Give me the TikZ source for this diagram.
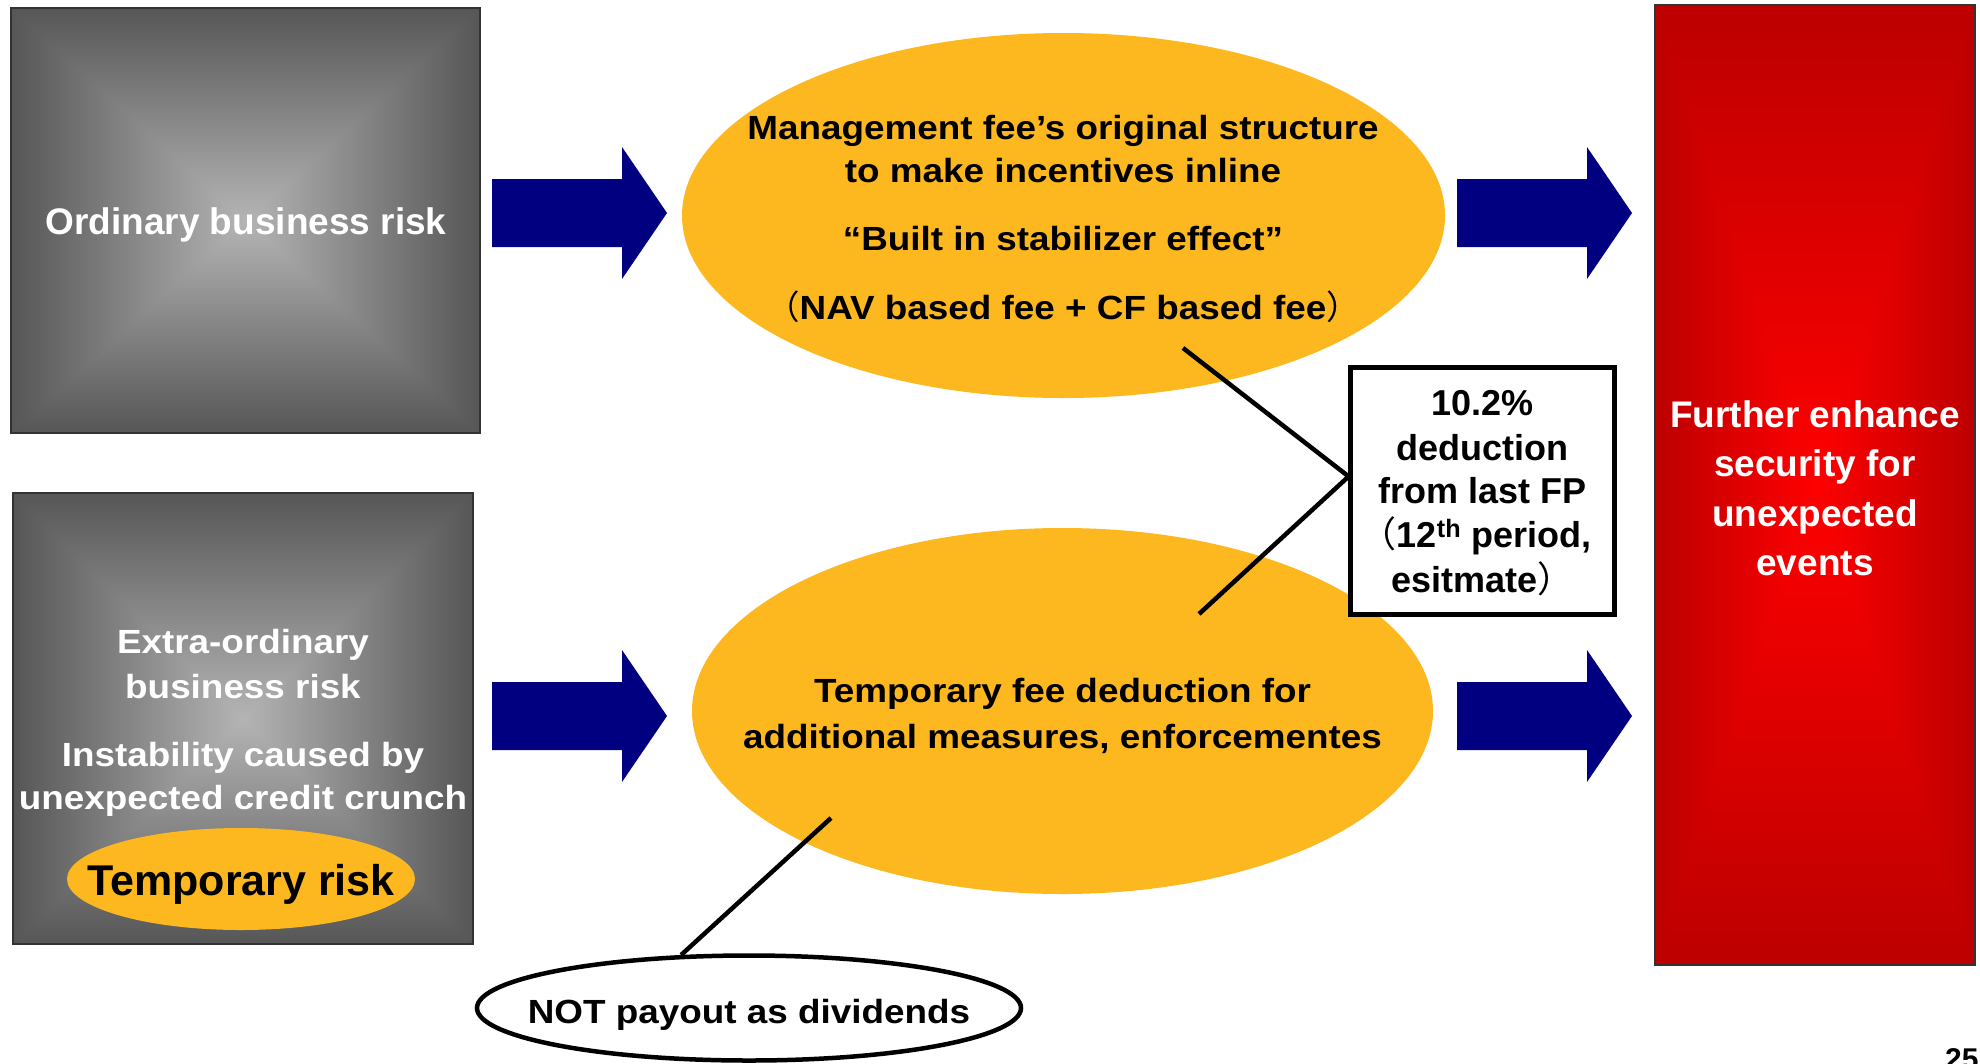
\documentclass[tikz,border=0pt]{standalone}
\usepackage{fontspec}
\setmainfont{Liberation Sans}
\newfontfamily\wide[FakeStretch=1.1]{Liberation Sans}
\newfontfamily\cjk{Noto Sans CJK JP}
\usetikzlibrary{shapes.geometric,calc}
\definecolor{navyarrow}{RGB}{0,0,128}
\definecolor{gold}{RGB}{252,184,30}
\definecolor{grayedge}{RGB}{86,86,86}
\definecolor{graycenter}{RGB}{180,180,180}
\definecolor{rededge}{RGB}{188,0,0}
\definecolor{redcenter}{RGB}{255,0,0}
\definecolor{frame}{RGB}{51,51,51}
\newcommand\rectshade[6]{%
  \coordinate (rsc) at ({(#1+#3)/2},{(#2+#4)/2});
  \shade[inner color=#6,outer color=#5] (#1,#2) rectangle (#3,#4);
  \shade[top color=#5,bottom color=#6] (#1,#2) -- (#3,#2) -- (rsc) -- cycle;
  \shade[top color=#6,bottom color=#5] (#1,#4) -- (#3,#4) -- (rsc) -- cycle;
  \shade[left color=#5,right color=#6] (#1,#2) -- (#1,#4) -- (rsc) -- cycle;
  \shade[left color=#6,right color=#5] (#3,#2) -- (#3,#4) -- (rsc) -- cycle;
}
\tikzset{
  lbl/.style={anchor=base,inner sep=0pt,font=\bfseries\fontsize{37}{44}\selectfont},
  wlbl/.style={anchor=base,inner sep=0pt,font=\wide\bfseries\fontsize{33.5}{40}\selectfont},
  dlbl/.style={anchor=base,inner sep=0pt,font=\bfseries\fontsize{36}{44}\selectfont},
  boxframe/.style={draw=frame,line width=1.5pt,inner sep=0pt},
  goldell/.style={ellipse,fill=gold,inner sep=0pt},
  barrow/.pic={\fill[navyarrow] (0,-34) -- (130,-34) -- (130,-66) -- (175,0) -- (130,66) -- (130,34) -- (0,34) -- cycle;},
  callline/.style={line width=4.5pt,black}
}
\begin{document}
\begin{tikzpicture}[x=1pt,y=-1pt]
\useasboundingbox (0,0) rectangle (1980,1063);
\fill[white] (0,0) rectangle (1980,1063);

% left boxes
\rectshade{11}{8}{480}{433}{grayedge}{graycenter}
\node[boxframe,minimum width=469pt,minimum height=425pt] (ord) at (245.5,220.5) {};
\rectshade{13}{493}{473}{944}{grayedge}{graycenter}
\node[boxframe,minimum width=460pt,minimum height=451pt] (extra) at (243,718.5) {};

% red box
\rectshade{1655}{5}{1975}{965}{rededge}{redcenter}
\node[boxframe,minimum width=320pt,minimum height=960pt] (sec) at (1815,485) {};

% arrows
\pic at (492,213) {barrow};
\pic at (492,716) {barrow};
\pic at (1457,213) {barrow};
\pic at (1457,716) {barrow};

% ellipses
\node[goldell,minimum width=763pt,minimum height=365pt] (mgmt) at (1063.5,215.5) {};
\node[goldell,minimum width=741pt,minimum height=366pt] (temp) at (1062.5,711) {};
\node[goldell,minimum width=348pt,minimum height=102pt] (trisk) at (241,879) {};

% callout box and NOT ellipse
\node[draw=black,fill=white,line width=5pt,minimum width=264pt,minimum height=247pt,inner sep=0pt] (ded) at (1482.5,491) {};
\node[ellipse,draw=black,fill=white,line width=4.5pt,minimum width=544pt,minimum height=105pt,inner sep=0pt] (notp) at (749,1008) {};

% connector lines
\coordinate (m1) at (1183,348);
\coordinate (m2) at (1199,614);
\coordinate (m3) at (831,818);
\draw[callline] (m1) -- ([yshift=15pt]ded.west);
\draw[callline] (m2) -- ([yshift=14pt]ded.west);
\draw[callline] (m3) -- (notp.142);

% texts
\node[lbl,white] (t1) at (246,234) {Ordinary business risk};
\node[wlbl,white] (t2) at (243,653) {Extra-ordinary};
\node[wlbl,white] (t3) at (243,698) {business risk};
\node[wlbl,white] (t4) at (243,766) {Instability caused by};
\node[wlbl,white] (t5) at (243,809) {unexpected credit crunch};
\node[anchor=base,inner sep=0pt,font=\bfseries\fontsize{43}{50}\selectfont] (t6) at (241,895) {Temporary risk};

\node[wlbl] (m1t) at (1063,139) {Management fee’s original structure};
\node[wlbl] (m2t) at (1063,182) {to make incentives inline};
\node[wlbl] (m3t) at (1063,250) {“Built in stabilizer effect”};
\node[wlbl] (m4t) at (1063,319) {{\cjk\mdseries （}NAV based fee + CF based fee{\cjk\mdseries ）}};

\node[wlbl] (b1t) at (1062.5,702) {Temporary fee deduction for};
\node[wlbl] (b2t) at (1062.5,748) {additional measures, enforcementes};

\node[dlbl] (d1) at (1482.5,415) {10.2\%};
\node[dlbl] (d2) at (1482.5,460) {deduction};
\node[dlbl] (d3) at (1482.5,503) {from last FP};
\node[dlbl] (d4) at (1476,547) {{\cjk\mdseries （}12\textsuperscript{th} period,};
\node[dlbl] (d5) at (1482.5,592) {esitmate{\cjk\mdseries ）}};

\node[lbl,white] (r1) at (1815,427) {Further enhance};
\node[lbl,white] (r2) at (1815,476) {security for};
\node[lbl,white] (r3) at (1815,526) {unexpected};
\node[lbl,white] (r4) at (1815,575) {events};

\node[wlbl] (n1) at (749,1023) {NOT payout as dividends};
\node[anchor=base west,inner sep=0pt,font=\bfseries\fontsize{30}{36}\selectfont] (pg) at (1945,1069) {25};
\end{tikzpicture}
\end{document}
